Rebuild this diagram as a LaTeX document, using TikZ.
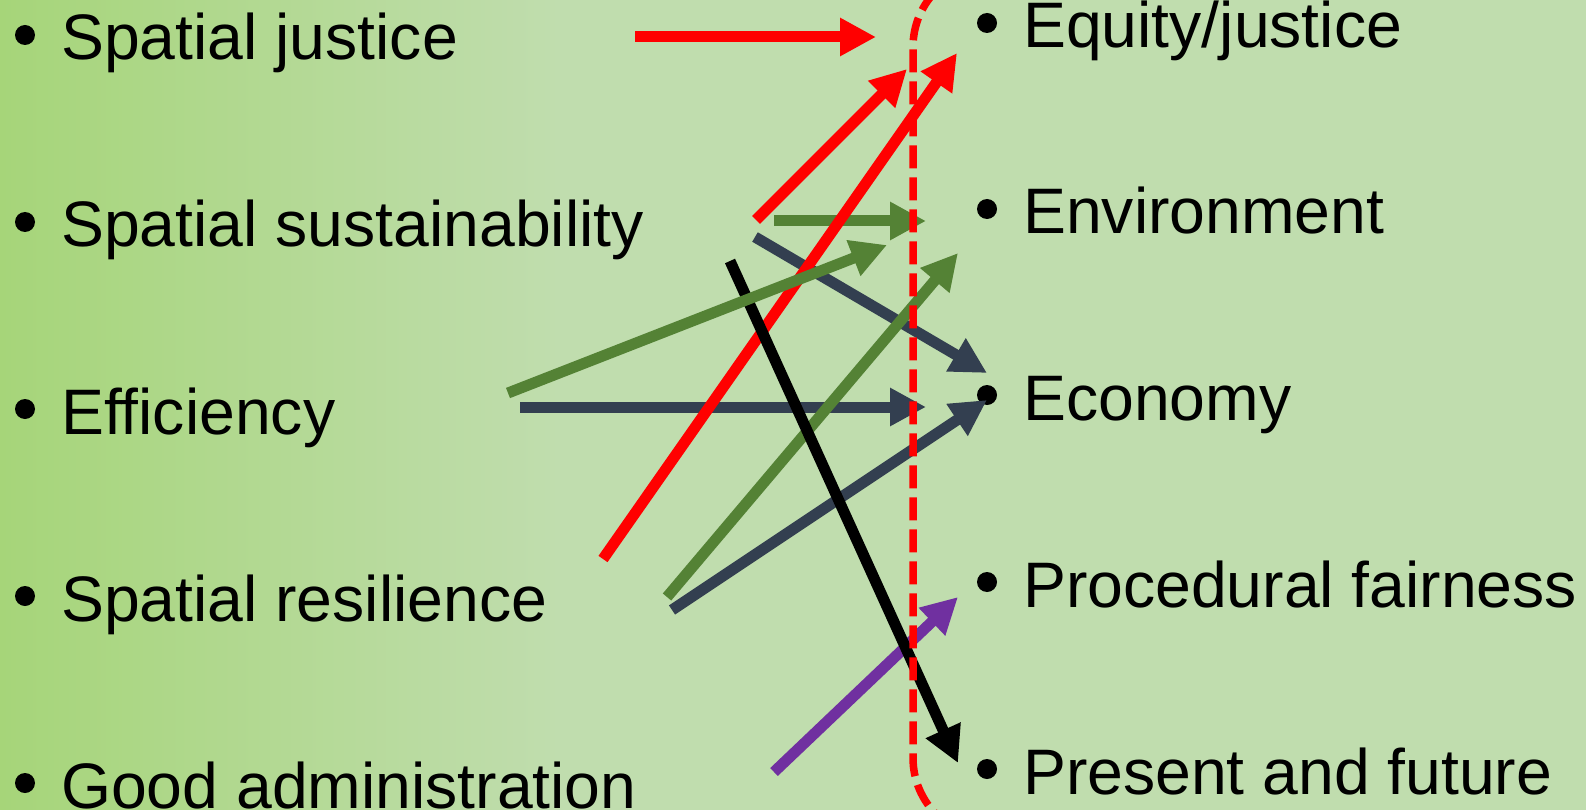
\documentclass[tikz,border=0pt]{standalone}
\usepackage{fontspec}
\setmainfont{Liberation Sans}
\usetikzlibrary{arrows.meta}
\definecolor{bgright}{HTML}{C0DDAE}
\definecolor{bgleft}{HTML}{A6D579}
\definecolor{dgreen}{HTML}{548235}
\definecolor{slate}{HTML}{333F50}
\definecolor{purp}{HTML}{7030A0}
\tikzset{
  item/.style={anchor=base west, inner sep=0pt, font=\fontsize{64.3}{70}\selectfont},
  bul/.style={circle, fill=black, inner sep=0pt, minimum size=20pt},
  arr/.style={line width=11pt, -{Triangle[length=36pt,width=36pt]}},
  fence/.style={red, line width=7.5pt, dash pattern=on 23pt off 9pt}
}
\begin{document}
\begin{tikzpicture}[x=1pt,y=-1pt]
\useasboundingbox (0,0) rectangle (1586,810);
\fill[bgright] (0,0) rectangle (1586,810);
\shade[left color=bgleft, right color=bgright] (0,0) rectangle (560,810);
% left items
\node[bul] (lb1) at (25,35) {};
\node[bul] (lb2) at (25,222) {};
\node[bul] (lb3) at (25,409) {};
\node[bul] (lb4) at (25,596) {};
\node[bul] (lb5) at (25,783) {};
\node[item] (l1) at (61,60) {Spatial justice};
\node[item] (l2) at (61,247) {Spatial sustainability};
\node[item] (l3) at (61,434) {Efficiency};
\node[item] (l4) at (61,621) {Spatial resilience};
\node[item] (l5) at (61,808) {Good administration};
% right items
\node[bul] (rb1) at (987,23) {};
\node[bul] (rb2) at (987,209) {};
\node[bul] (rb3) at (987,395) {};
\node[bul] (rb4) at (987,582) {};
\node[bul] (rb5) at (987,769) {};
\node[item] (r1) at (1023,48) {Equity/justice};
\node[item] (r2) at (1023,234) {Environment};
\node[item] (r3) at (1023,420) {Economy};
\node[item] (r4) at (1023,607) {Procedural fairness};
\node[item] (r5) at (1023,794) {Present and future};
% arrow end points
\coordinate (a1s) at (635,37);  \coordinate (a1e) at (876,37);
\coordinate (a2s) at (756,220); \coordinate (a2e) at (907,69);
\coordinate (a3s) at (603,559); \coordinate (a3e) at (957,53);
\coordinate (a4s) at (774,221); \coordinate (a4e) at (926,221);
\coordinate (a5s) at (755,237); \coordinate (a5e) at (987,373);
\coordinate (a6s) at (508,393); \coordinate (a6e) at (887,245);
\coordinate (a7s) at (520,407); \coordinate (a7e) at (926,407);
\coordinate (a8s) at (730,261); \coordinate (a8e) at (958,763);
\coordinate (a9s) at (667,597); \coordinate (a9e) at (958,253);
\coordinate (a10s) at (672,610); \coordinate (a10e) at (987,400);
\coordinate (a11s) at (774,772); \coordinate (a11e) at (958,597);
% arrows (back to front)
\draw[arr, red] (a1s) -- (a1e);
\draw[arr, red] (a2s) -- (a2e);
\draw[arr, dgreen] (a4s) -- (a4e);
\draw[arr, slate] (a5s) -- (a5e);
\draw[arr, slate] (a7s) -- (a7e);
\draw[arr, dgreen] (a9s) -- (a9e);
\draw[arr, slate] (a10s) -- (a10e);
\draw[arr, purp] (a11s) -- (a11e);
\draw[arr, red] (a3s) -- (a3e);
\draw[arr, black] (a8s) -- (a8e);
\draw[arr, dgreen] (a6s) -- (a6e);
% dashed boundary
\draw[fence] (993,-33) .. controls (948.8,-33) and (913,2.8) .. (913,47)
  -- (913,758) .. controls (913,802.2) and (948.8,838) .. (993,838);
\end{tikzpicture}
\end{document}
